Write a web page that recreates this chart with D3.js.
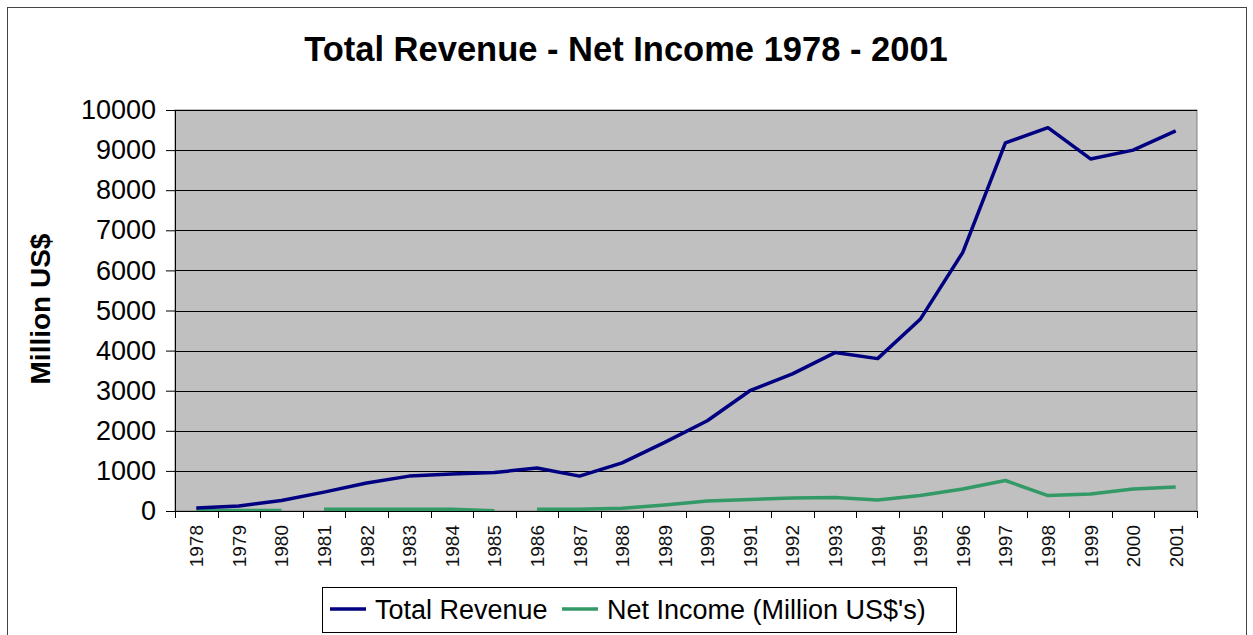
<!DOCTYPE html>
<html>
<head>
<meta charset="utf-8">
<script src="https://cdn.jsdelivr.net/npm/d3@7"></script>
<style>
  html, body { margin: 0; padding: 0; background: #fff; }
  svg { display: block; font-family: "Liberation Sans", Arial, sans-serif; }
</style>
</head>
<body>
<svg id="chart" width="1253" height="635"></svg>
<script>
const years = ["1978","1979","1980","1981","1982","1983","1984","1985","1986","1987","1988","1989",
               "1990","1991","1992","1993","1994","1995","1996","1997","1998","1999","2000","2001"];
const totalRevenue = [75, 125, 260, 470, 700, 870, 920, 960, 1070, 870, 1200, 1710,
                      2250, 3000, 3420, 3950, 3800, 4780, 6450, 9180, 9560, 8780, 9000, 9480];
const netIncome = [10, 10, 10, 45, 45, 45, 45, 5, 45, 42, 67, 150,
                   250, 285, 325, 335, 275, 385, 550, 760, 385, 425, 550, 600];
// the Net Income line is not drawn between these years and the following one
const netIncomeBreaksAfter = ["1980", "1985"];
const yTicks = [0,1000,2000,3000,4000,5000,6000,7000,8000,9000,10000];
const seriesNames = ["Total Revenue", "Net Income (Million US$'s)"];
const seriesColors = ["#000080", "#339966"];

const svg = d3.select("#chart");
const W = 1253, H = 635;
const plot = {left: 175, top: 110, right: 1197, bottom: 511};

svg.append("rect").attr("x", 0).attr("y", 0).attr("width", W).attr("height", H).attr("fill", "#fff");
// outer chart border
svg.append("rect").attr("x", 7.5).attr("y", 7.5).attr("width", 1239).attr("height", 660)
   .attr("fill", "none").attr("stroke", "#444").attr("stroke-width", 1);

// title
svg.append("text").attr("x", 626).attr("y", 61).attr("text-anchor", "middle")
   .attr("font-size", 34.5).attr("font-weight", "bold").attr("fill", "#000")
   .text("Total Revenue - Net Income 1978 - 2001");

const x = d3.scaleBand().domain(years).range([plot.left, plot.right]).paddingInner(0).paddingOuter(0);
const y = d3.scaleLinear().domain([0, 10000]).range([plot.bottom, plot.top]);

// plot area
svg.append("rect").attr("x", plot.left).attr("y", plot.top)
   .attr("width", plot.right - plot.left).attr("height", plot.bottom - plot.top)
   .attr("fill", "#c0c0c0").attr("stroke", "#808080").attr("stroke-width", 1);

// gridlines
svg.append("g").selectAll("line").data(yTicks.filter(d => d > 0)).join("line")
   .attr("x1", plot.left).attr("x2", plot.right)
   .attr("y1", d => Math.round(y(d)) + 0.5).attr("y2", d => Math.round(y(d)) + 0.5)
   .attr("stroke", "#000").attr("stroke-width", 1);

// y axis
const yAxis = d3.axisLeft(y).tickValues(yTicks).tickSize(9).tickPadding(10).tickFormat(d3.format("d"));
const gy = svg.append("g").attr("transform", `translate(${plot.left},0)`).call(yAxis);
gy.select(".domain").attr("stroke", "#000");
gy.selectAll(".tick line").attr("stroke", "#000");
gy.selectAll(".tick text").attr("font-size", 27).attr("font-family", "'Liberation Sans', Arial, sans-serif")
  .attr("fill", "#000");

// x axis (ticks at category boundaries)
svg.append("line").attr("x1", plot.left).attr("x2", plot.right)
   .attr("y1", plot.bottom + 0.5).attr("y2", plot.bottom + 0.5).attr("stroke", "#000");
const boundaries = years.map(d => x(d)).concat([x(years[years.length - 1]) + x.bandwidth()]);
svg.append("g").selectAll("line").data(boundaries).join("line")
   .attr("x1", d => Math.round(d) + 0.5).attr("x2", d => Math.round(d) + 0.5)
   .attr("y1", plot.bottom).attr("y2", plot.bottom + 7).attr("stroke", "#000");
svg.append("g").selectAll("text").data(years).join("text")
   .attr("transform", d => `translate(${x(d) + x.bandwidth() / 2 + 7},${plot.bottom + 14}) rotate(-90)`)
   .attr("text-anchor", "end").attr("font-size", 19).attr("fill", "#111")
   .text(d => d);

// y axis title
svg.append("text").attr("transform", "translate(50,309) rotate(-90)")
   .attr("text-anchor", "middle").attr("font-size", 28).attr("font-weight", "bold").attr("fill", "#000")
   .text("Million US$");

// lines
const cx = d => x(d) + x.bandwidth() / 2;
svg.append("clipPath").attr("id", "plotclip").append("rect")
   .attr("x", plot.left).attr("y", plot.top - 5).attr("width", plot.right - plot.left).attr("height", plot.bottom - plot.top + 5);
const lineGen = d3.line().x(d => cx(d.year)).y(d => y(d.value));

const revData = years.map((yr, i) => ({year: yr, value: totalRevenue[i]}));
// split net income into runs at the breaks
const niRuns = [];
let run = [];
years.forEach((yr, i) => {
  run.push({year: yr, value: netIncome[i]});
  if (netIncomeBreaksAfter.includes(yr)) { niRuns.push(run); run = []; }
});
if (run.length) niRuns.push(run);

const gLines = svg.append("g").attr("clip-path", "url(#plotclip)");
niRuns.forEach(r => {
  gLines.append("path").attr("d", lineGen(r)).attr("fill", "none")
    .attr("stroke", seriesColors[1]).attr("stroke-width", 3.5).attr("stroke-linejoin", "round");
});
gLines.append("path").attr("d", lineGen(revData)).attr("fill", "none")
  .attr("stroke", seriesColors[0]).attr("stroke-width", 3.5).attr("stroke-linejoin", "round");

// legend
const lg = svg.append("g");
lg.append("rect").attr("x", 322.5).attr("y", 587.5).attr("width", 634).attr("height", 45)
  .attr("fill", "#fff").attr("stroke", "#000").attr("stroke-width", 1);
const legendItems = [
  {name: seriesNames[0], color: seriesColors[0], sx: 330, tx: 375},
  {name: seriesNames[1], color: seriesColors[1], sx: 562, tx: 607}
];
legendItems.forEach(it => {
  lg.append("line").attr("x1", it.sx).attr("x2", it.sx + 36).attr("y1", 609).attr("y2", 609)
    .attr("stroke", it.color).attr("stroke-width", 3.5);
  lg.append("text").attr("x", it.tx).attr("y", 619).attr("font-size", 27).attr("fill", "#000").text(it.name);
});
</script>
</body>
</html>
